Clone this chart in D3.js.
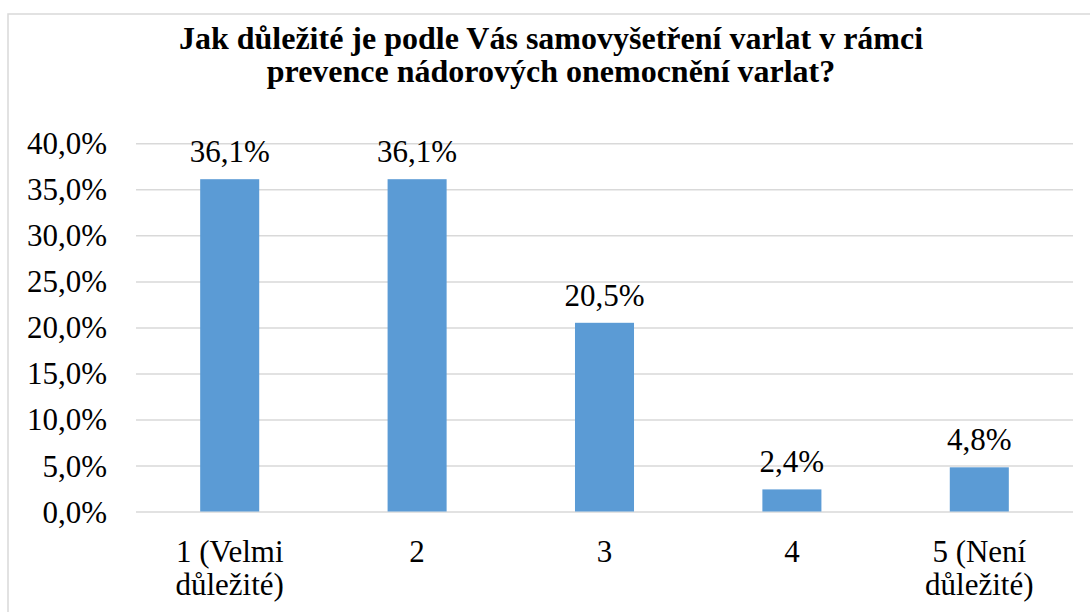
<!DOCTYPE html>
<html><head><meta charset="utf-8">
<script src="https://cdn.jsdelivr.net/npm/d3@7"></script>
<style>body{margin:0;background:#fff}svg{display:block}</style>
</head><body>
<script>
const titleLines = ["Jak důležité je podle Vás samovyšetření varlat v rámci", "prevence nádorových onemocnění varlat?"];
const categories = ["1 (Velmi důležité)", "2", "3", "4", "5 (Není důležité)"];
const categoryLines = [["1 (Velmi", "důležité)"], ["2"], ["3"], ["4"], ["5 (Není", "důležité)"]];
const values = [36.1, 36.1, 20.5, 2.4, 4.8];
const yTicks = [0, 5, 10, 15, 20, 25, 30, 35, 40];

const W = 1090, H = 612;
const margin = {left: 136, right: 17, top: 143.3, bottom: 100.5};
const font = '"Liberation Serif"';
const fmt = v => d3.format(".1f")(v).replace(".", ",") + "%";

const svg = d3.select("body").append("svg").attr("width", W).attr("height", H);
svg.append("rect").attr("width", W).attr("height", H).attr("fill", "#fff");
// chart border
svg.append("rect").attr("x", 8).attr("y", 14).attr("width", W + 20).attr("height", H + 20)
  .attr("fill", "none").attr("stroke", "#d9d9d9").attr("stroke-width", 1.5);

const x = d3.scaleBand().domain(categories).range([margin.left, W - margin.right]).paddingInner(0.685).paddingOuter(0.3425);
const y = d3.scaleLinear().domain([0, 40]).range([H - margin.bottom, margin.top]);

// title
const t = svg.append("text").attr("text-anchor", "middle").style("font-family", font)
  .style("font-weight", "bold").style("font-size", "32px").attr("fill", "#000");
titleLines.forEach((l, i) => t.append("tspan").attr("x", 551).attr("y", 49 + i * 33).text(l));

// gridlines + y axis labels
const yAxis = d3.axisLeft(y).tickValues(yTicks).tickFormat(fmt).tickSize(-(W - margin.left - margin.right)).tickPadding(29);
const ga = svg.append("g").attr("transform", `translate(${margin.left},0)`).call(yAxis);
ga.attr("font-family", null).attr("font-size", null);
ga.select(".domain").remove();
ga.selectAll(".tick line").attr("stroke", "#d9d9d9").attr("stroke-width", 1.5);
ga.selectAll(".tick text").style("font-family", font).style("font-size", "31px").attr("fill", "#000").attr("dy", "0.34em");

// bars
svg.append("g").selectAll("rect").data(values).join("rect")
  .attr("x", (d, i) => x(categories[i]))
  .attr("width", x.bandwidth())
  .attr("y", d => y(d))
  .attr("height", d => y(0) - y(d))
  .attr("fill", "#5B9BD5");

// data labels
svg.append("g").selectAll("text").data(values).join("text")
  .attr("x", (d, i) => x(categories[i]) + x.bandwidth() / 2)
  .attr("y", d => y(d) - 17)
  .attr("text-anchor", "middle").style("font-family", font).style("font-size", "31px").attr("fill", "#000")
  .text(fmt);

// category labels
const cg = svg.append("g");
categoryLines.forEach((lines, i) => {
  const tx = cg.append("text").attr("text-anchor", "middle").style("font-family", font).style("font-size", "31px").attr("fill", "#000");
  lines.forEach((l, j) => tx.append("tspan").attr("x", x(categories[i]) + x.bandwidth() / 2).attr("y", 561.5 + j * 33.5).text(l));
});
</script>
</body></html>
